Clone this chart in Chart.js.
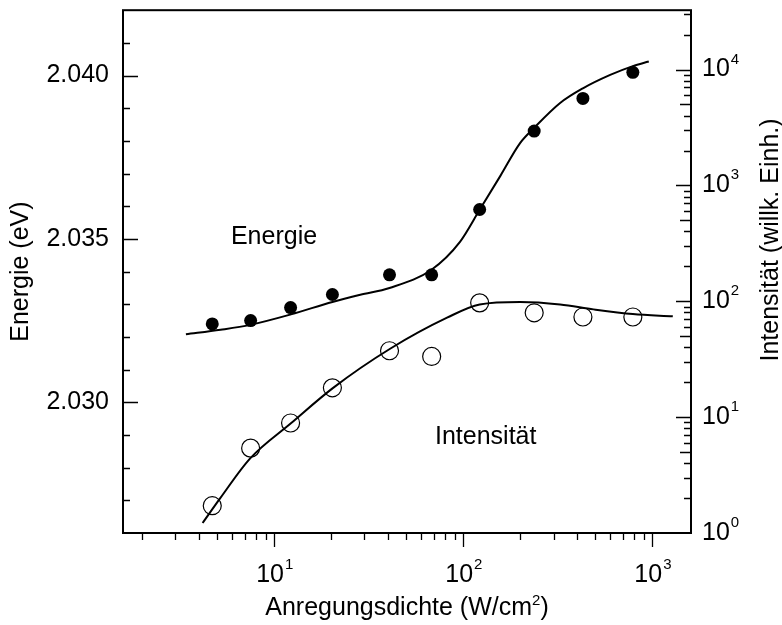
<!DOCTYPE html>
<html>
<head>
<meta charset="utf-8">
<script src="https://cdn.jsdelivr.net/npm/chart.js@4"></script>
<style>
  html, body { margin: 0; padding: 0; background: #fff; }
  #wrap { width: 782px; height: 625px; position: relative; }
</style>
</head>
<body>
<div id="wrap"><canvas id="chart"></canvas></div>
<script>
// Measured points: excitation density (W/cm^2), peak energy (eV), intensity (arb. units)
const density   = [4.7, 7.5, 12.2, 20.3, 40.7, 68, 122, 237, 429, 788];
const energy    = [2.0324, 2.0325, 2.0329, 2.0333, 2.0339, 2.0339, 2.0359, 2.0383, 2.0393, 2.0401];
const intensity = [1.72, 5.4, 8.9, 17.9, 37.4, 33.4, 96.9, 79.5, 73.1, 73.1];

// Fitted curves, read point by point
const energyFitX = [3.41, 5.2, 7.46, 12.25, 20.3, 28.5, 40.7, 67.6, 96, 122, 157, 200, 237, 325, 429, 598, 788, 957];
const energyFitY = [2.03208, 2.03222, 2.03237, 2.03269, 2.03307, 2.03329, 2.0335, 2.03405, 2.03491, 2.03589,
                    2.03693, 2.03794, 2.0384, 2.03916, 2.03961, 2.04002, 2.04029, 2.04043];
const intensityFitX = [4.18, 5.18, 7.46, 12.25, 20.4, 41, 82, 122, 200, 325, 488, 788, 1282];
const intensityFitY = [1.22, 2.0, 4.41, 8.85, 17.8, 38.9, 72.1, 93.9, 98.6, 93.9, 85.1, 77.5, 74.1];

// Axis ranges and tick labels
const xRange = [1.585, 1600];
const energyRange = [2.026, 2.042];
const intensityRange = [1, 32500];
const energyMajor = [2.030, 2.035, 2.040];
const xMajorExp = [1, 2, 3];
const intensityMajorExp = [0, 1, 2, 3, 4];

const FONT = '"Liberation Sans", Arial, Helvetica, sans-serif';
const BASE = '25px ' + FONT;
const SUP = '15px ' + FONT;

function pts(xs, ys) {
  return xs.map((x, i) => ({ x: x, y: ys[i] }));
}

// minor log ticks 2..9 inside a range
function logMinor(min, max) {
  const out = [];
  for (let e = Math.floor(Math.log10(min)); e <= Math.ceil(Math.log10(max)); e++) {
    for (let m = 2; m <= 9; m++) {
      const v = m * Math.pow(10, e);
      if (v > min && v < max) out.push({ v: v, m: m });
    }
  }
  return out;
}

// "10" with a raised exponent; y is the vertical middle of the base digits
function drawPower(ctx, exp, x, y, align) {
  ctx.font = BASE;
  const wb = ctx.measureText('10').width;
  ctx.font = SUP;
  const ws = ctx.measureText(String(exp)).width;
  const left = align === 'center' ? x - (wb + ws) / 2 : x;
  ctx.textAlign = 'left';
  ctx.textBaseline = 'middle';
  ctx.font = BASE;
  ctx.fillText('10', left, y);
  ctx.font = SUP;
  ctx.textBaseline = 'alphabetic';
  ctx.fillText(String(exp), left + wb + 1, y - 6);
}

const axesPlugin = {
  id: 'axesPlugin',
  afterDatasetsDraw(chart) {
    const ctx = chart.ctx;
    const a = chart.chartArea;
    const sx = chart.scales.x, sy = chart.scales.y, sy1 = chart.scales.y1;
    ctx.save();
    ctx.strokeStyle = '#000';
    ctx.fillStyle = '#000';

    // ticks
    ctx.lineWidth = 1.3;
    ctx.beginPath();
    // left axis, inward
    for (let i = 0; i <= 16; i++) {
      const v = energyRange[0] + i * 0.001;
      const py = Math.round(sy.getPixelForValue(v)) + 0.5;
      if (py <= a.top + 2 || py >= a.bottom - 2) continue;
      const major = energyMajor.some(m => Math.abs(m - v) < 1e-7);
      ctx.moveTo(a.left, py);
      ctx.lineTo(a.left + (major ? 15 : 7), py);
    }
    // bottom axis, outward
    xMajorExp.forEach(e => {
      const px = Math.round(sx.getPixelForValue(Math.pow(10, e))) + 0.5;
      ctx.moveTo(px, a.bottom);
      ctx.lineTo(px, a.bottom + 14);
    });
    logMinor(xRange[0], xRange[1]).forEach(t => {
      const px = Math.round(sx.getPixelForValue(t.v)) + 0.5;
      ctx.moveTo(px, a.bottom);
      ctx.lineTo(px, a.bottom + 7);
    });
    // right axis, inward
    intensityMajorExp.forEach(e => {
      const py = Math.round(sy1.getPixelForValue(Math.pow(10, e))) + 0.5;
      if (py >= a.bottom - 2) return;
      ctx.moveTo(a.right, py);
      ctx.lineTo(a.right - 15, py);
    });
    logMinor(intensityRange[0], intensityRange[1]).forEach(t => {
      const py = Math.round(sy1.getPixelForValue(t.v)) + 0.5;
      if (py <= a.top + 2) return;
      ctx.moveTo(a.right, py);
      ctx.lineTo(a.right - (t.m === 5 ? 11 : 7), py);
    });
    ctx.stroke();

    // frame
    ctx.lineWidth = 2;
    ctx.strokeRect(a.left, a.top, a.right - a.left, a.bottom - a.top);

    // tick labels
    ctx.font = BASE;
    ctx.textAlign = 'right';
    ctx.textBaseline = 'middle';
    energyMajor.forEach(v => {
      ctx.fillText(v.toFixed(3), a.left - 14, sy.getPixelForValue(v));
    });
    xMajorExp.forEach(e => {
      drawPower(ctx, e, sx.getPixelForValue(Math.pow(10, e)), a.bottom + 42, 'center');
    });
    intensityMajorExp.forEach(e => {
      drawPower(ctx, e, a.right + 11, sy1.getPixelForValue(Math.pow(10, e)), 'left');
    });

    // axis titles
    ctx.font = BASE;
    ctx.textAlign = 'center';
    ctx.textBaseline = 'middle';
    ctx.save();
    ctx.translate(21, (a.top + a.bottom) / 2);
    ctx.rotate(-Math.PI / 2);
    ctx.fillText('Energie (eV)', 0, 0);
    ctx.restore();

    ctx.save();
    ctx.translate(771, 240);
    ctx.rotate(-Math.PI / 2);
    ctx.fillText('Intensität (willk. Einh.)', 0, 0);
    ctx.restore();

    // x title with superscript unit
    const t1 = 'Anregungsdichte (W/cm', t2 = '2', t3 = ')';
    ctx.font = BASE;
    const w1 = ctx.measureText(t1).width, w3 = ctx.measureText(t3).width;
    ctx.font = SUP;
    const w2 = ctx.measureText(t2).width;
    let tx = (a.left + a.right) / 2 - (w1 + w2 + w3) / 2;
    const ty = 615;
    ctx.textAlign = 'left';
    ctx.textBaseline = 'alphabetic';
    ctx.font = BASE;
    ctx.fillText(t1, tx, ty);
    ctx.font = SUP;
    ctx.fillText(t2, tx + w1, ty - 10);
    ctx.font = BASE;
    ctx.fillText(t3, tx + w1 + w2, ty);

    // curve labels
    ctx.textAlign = 'center';
    ctx.textBaseline = 'middle';
    ctx.fillText('Energie', 274, 237);
    ctx.textAlign = 'left';
    ctx.fillText('Intensität', 435, 437);

    ctx.restore();
  }
};

new Chart(document.getElementById('chart'), {
  type: 'scatter',
  data: {
    datasets: [
      {
        data: pts(energyFitX, energyFitY),
        yAxisID: 'y',
        showLine: true,
        borderColor: '#000',
        borderWidth: 2,
        pointRadius: 0,
        cubicInterpolationMode: 'monotone'
      },
      {
        data: pts(intensityFitX, intensityFitY),
        yAxisID: 'y1',
        showLine: true,
        borderColor: '#000',
        borderWidth: 2,
        pointRadius: 0,
        cubicInterpolationMode: 'monotone'
      },
      {
        data: pts(density, energy),
        yAxisID: 'y',
        pointRadius: 6.5,
        backgroundColor: '#000',
        borderColor: '#000',
        borderWidth: 0
      },
      {
        data: pts(density, intensity),
        yAxisID: 'y1',
        pointRadius: 9,
        backgroundColor: 'rgba(0,0,0,0)',
        borderColor: '#000',
        borderWidth: 1.2
      }
    ]
  },
  options: {
    responsive: true,
    maintainAspectRatio: false,
    animation: false,
    events: [],
    layout: { padding: { left: 123, right: 91, top: 7, bottom: 92 } },
    plugins: { legend: { display: false }, tooltip: { enabled: false } },
    scales: {
      x: { type: 'logarithmic', min: xRange[0], max: xRange[1], display: false },
      y: { type: 'linear', min: energyRange[0], max: energyRange[1], display: false },
      y1: { type: 'logarithmic', position: 'right', min: intensityRange[0], max: intensityRange[1], display: false }
    }
  },
  plugins: [axesPlugin]
});
</script>
</body>
</html>
